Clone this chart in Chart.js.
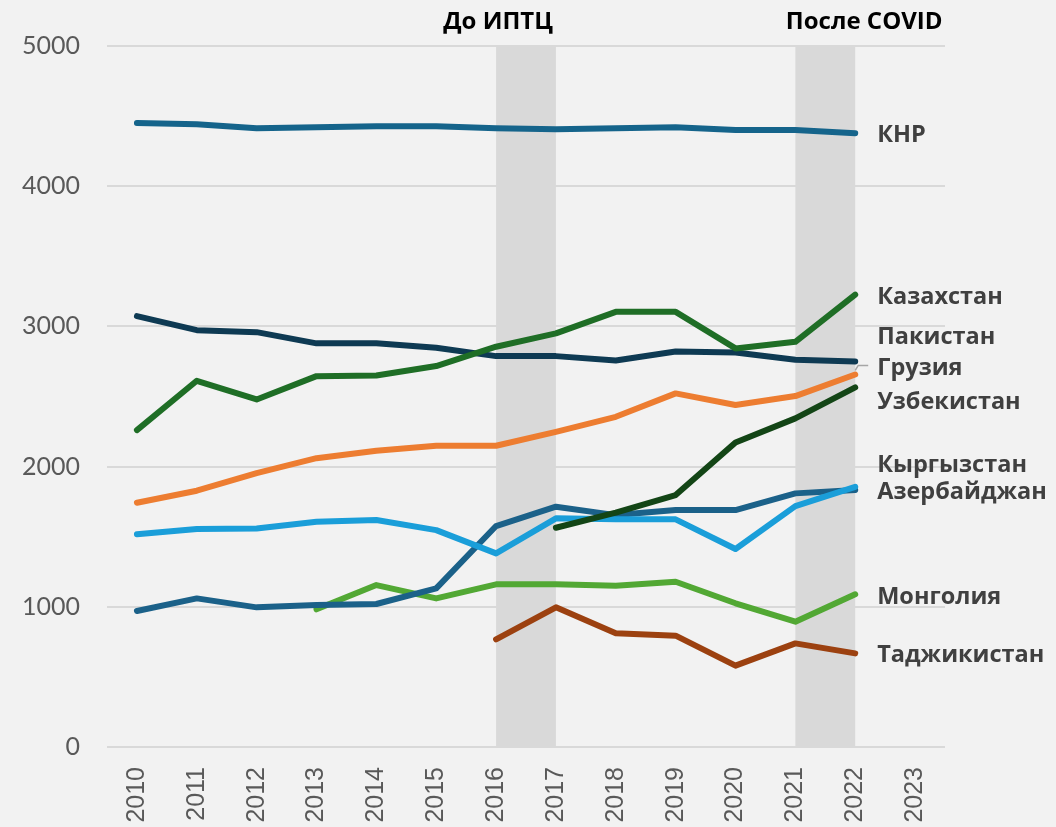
<!DOCTYPE html>
<html>
<head>
<meta charset="utf-8">
<script src="https://cdn.jsdelivr.net/npm/chart.js@4/dist/chart.umd.min.js"></script>
<style>
  html, body { margin: 0; padding: 0; background: #f2f2f2; }
  #wrap { width: 1056px; height: 827px; position: relative; }
</style>
</head>
<body>
<div id="wrap"><canvas id="c"></canvas></div>
<script>
const years = ['2010','2011','2012','2013','2014','2015','2016','2017','2018','2019','2020','2021','2022','2023'];
const yTicks = [0, 1000, 2000, 3000, 4000, 5000];

const china      = [4450, 4442, 4414, 4421, 4428, 4428, 4414, 4407, 4414, 4421, 4400, 4400, 4378, null];
const kazakhstan = [2260, 2612, 2479, 2645, 2650, 2717, 2855, 2950, 3104, 3104, 2843, 2890, 3226, null];
const pakistan   = [3073, 2973, 2959, 2879, 2879, 2848, 2788, 2788, 2757, 2821, 2814, 2762, 2750, null];
const georgia    = [1742, 1828, 1954, 2060, 2113, 2149, 2149, 2248, 2355, 2522, 2439, 2503, 2657, null];
const uzbekistan = [null, null, null, null, null, null, null, 1564, 1672, 1797, 2172, 2344, 2565, null];
const kyrgyzstan = [1517, 1555, 1559, 1607, 1619, 1547, 1381, 1631, 1624, 1624, 1412, 1718, 1856, null];
const azerbaijan = [970, 1060, 996, 1013, 1020, 1131, 1576, 1714, 1654, 1690, 1690, 1809, 1833, null];
const mongolia   = [null, null, null, 982, 1155, 1060, 1160, 1160, 1150, 1179, 1025, 894, 1089, null];
const tajikistan = [null, null, null, null, null, null, 768, 996, 811, 794, 580, 739, 668, null];

const seriesNames = ['КНР','Казахстан','Пакистан','Грузия','Узбекистан','Кыргызстан','Азербайджан','Монголия','Таджикистан'];
const seriesData  = [china, kazakhstan, pakistan, georgia, uzbekistan, kyrgyzstan, azerbaijan, mongolia, tajikistan];
const seriesColors = ['#15648b','#1f6e26','#0e3a53','#ed7d31','#134516','#1a9ed9','#1b6189','#52a834','#9c4110'];
// label anchor (in data units) for end labels
const labelAnchors = [4364, 3209, 2924, 2703, 2460, 2011, 1818, 1070, 656];

const bands = [['2016','2017'], ['2021','2022']];
const bandTitles = ['До ИПТЦ', 'После COVID'];

const datasets = seriesNames.map((n, i) => ({
  label: n,
  data: seriesData[i],
  borderColor: seriesColors[i],
  backgroundColor: seriesColors[i],
  borderWidth: 6,
  pointRadius: 0,
  pointHoverRadius: 0,
  tension: 0,
  borderCapStyle: 'round',
  borderJoinStyle: 'round',
  fill: false
}));

const overlay = {
  id: 'overlay',
  beforeDatasetsDraw(chart) {
    const { ctx, chartArea, scales } = chart;
    ctx.save();
    ctx.fillStyle = '#d9d9d9';
    bands.forEach(([a, b]) => {
      const x1 = scales.x.getPixelForValue(years.indexOf(a));
      const x2 = scales.x.getPixelForValue(years.indexOf(b));
      ctx.fillRect(x1, chartArea.top, x2 - x1, chartArea.bottom - chartArea.top);
    });
    ctx.restore();
  },
  afterDraw(chart) {
    const { ctx, scales } = chart;
    const x = scales.x, y = scales.y;
    ctx.save();
    ctx.fillStyle = '#000000';
    ctx.font = 'bold 24px "Open Sans"';
    ctx.textAlign = 'center';
    ctx.textBaseline = 'middle';
    const b1 = x.getPixelForValue(years.indexOf(bands[0][0]));
    const b2 = x.getPixelForValue(years.indexOf(bands[1][1]));
    ctx.fillText(bandTitles[0], b1 + 2, 22);
    ctx.fillText(bandTitles[1], b2 + 9, 22);
    const lx = x.getPixelForValue(12) + 22;
    ctx.fillStyle = '#404040';
    ctx.font = 'bold 23.5px "Open Sans"';
    ctx.textAlign = 'left';
    seriesNames.forEach((n, i) => {
      ctx.fillText(n, lx, y.getPixelForValue(labelAnchors[i]));
    });
    const gx = x.getPixelForValue(12);
    const gy = y.getPixelForValue(georgia[12]);
    ctx.strokeStyle = '#a6a6a6';
    ctx.lineWidth = 1.5;
    ctx.beginPath();
    ctx.moveTo(gx, gy - 4);
    ctx.lineTo(gx + 3, gy - 9);
    ctx.lineTo(gx + 13, gy - 9);
    ctx.stroke();
    ctx.restore();
  }
};

new Chart(document.getElementById('c'), {
  type: 'line',
  data: { labels: years, datasets },
  plugins: [overlay],
  options: {
    responsive: true,
    maintainAspectRatio: false,
    animation: false,
    events: [],
    layout: { padding: { top: 46, right: 111, left: 0, bottom: 0 } },
    plugins: { legend: { display: false }, tooltip: { enabled: false } },
    scales: {
      x: {
        offset: true,
        grid: { display: false, drawTicks: false },
        border: { display: false },
        ticks: {
          minRotation: 90, maxRotation: 90, padding: 20,
          color: '#595959',
          font: { family: '"Liberation Sans"', size: 25 }
        },
        afterFit(s) { s.height = 80; }
      },
      y: {
        min: 0, max: 5000,
        afterBuildTicks(s) { s.ticks = yTicks.map(v => ({ value: v })); },
        grid: { color: '#d9d9d9', lineWidth: 2, drawTicks: false },
        border: { display: false },
        ticks: {
          padding: 27,
          color: '#595959',
          font: { family: 'Lato', size: 25 },
          callback: (v) => String(v)
        },
        afterFit(s) { s.width = 107; }
      }
    }
  }
});
</script>
</body>
</html>
